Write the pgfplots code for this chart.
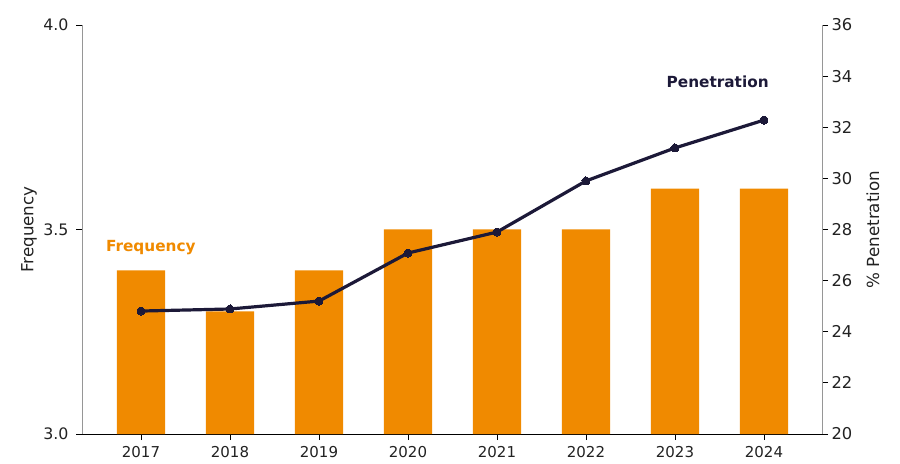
\documentclass[border=0pt]{standalone}
\usepackage{pgfplots}
\pgfplotsset{compat=1.18}
\usepackage{fontspec}
\setmainfont{DejaVu Sans}
\definecolor{orng}{RGB}{240,138,0}
\definecolor{navy}{RGB}{28,25,56}
\definecolor{spine}{RGB}{150,150,150}
\definecolor{txt}{RGB}{34,34,34}
\begin{document}
\begin{tikzpicture}
\path[use as bounding box] (-82bp,-30bp) rectangle (818bp,434bp);
\begin{axis}[
  at={(0,0)}, anchor=south west,
  scale only axis, width=740bp, height=409bp,
  xmin=-0.663, xmax=7.652, ymin=3, ymax=4,
  axis x line*=bottom, axis y line*=left,
  x axis line style={draw=black, line width=0.8bp, -},
  y axis line style={draw=spine, line width=0.8bp, -},
  tick align=outside, major tick length=6bp,
  tick style={black, line width=0.8bp},
  xtick={0,...,7},
  xticklabels={2017,2018,2019,2020,2021,2022,2023,2024},
  ytick={3,3.5,4},
  /pgf/number format/assume math mode=true,
  yticklabel style={/pgf/number format/fixed,/pgf/number format/fixed zerofill,/pgf/number format/precision=1, font=\fontsize{15.8bp}{18bp}\selectfont, text=txt, xshift=-4bp},
  xticklabel style={font=\fontsize{15bp}{17bp}\selectfont, text=txt, yshift=-3bp},
  every axis y label/.style={at={(axis description cs:0,0.5)}, xshift=-53bp, rotate=90, anchor=center},
  ylabel={Frequency},
  ylabel style={font=\fontsize{16.7bp}{20bp}\selectfont, text=txt},
  clip=false,
]
\addplot[ybar, bar width=0.54, fill=orng, draw=none, bar shift=0pt] coordinates {
(0,3.4) (1,3.3) (2,3.4) (3,3.5) (4,3.5) (5,3.5) (6,3.6) (7,3.6)};
\node[font=\bfseries\fontsize{15.3bp}{18bp}\selectfont, text=orng] at (axis cs:0.11,3.457) {Frequency};
\end{axis}
\begin{axis}[
  at={(0,0)}, anchor=south west,
  scale only axis, width=740bp, height=409bp,
  xmin=-0.663, xmax=7.652, ymin=20, ymax=36,
  axis x line=none, axis y line*=right,
  y axis line style={draw=spine, line width=0.8bp, -},
  tick align=outside, major tick length=6bp,
  tick style={black, line width=0.8bp},
  ytick={20,22,...,36},
  /pgf/number format/assume math mode=true,
  yticklabel style={font=\fontsize{16.3bp}{19bp}\selectfont, text=txt},
  every axis y label/.style={at={(axis description cs:1,0.5)}, xshift=51bp, rotate=90, anchor=center},
  ylabel={\% Penetration},
  ylabel style={font=\fontsize{16.7bp}{20bp}\selectfont, text=txt},
  clip=false,
]
\addplot[navy, line width=3.2bp, mark=*, mark size=4bp, mark options={fill=navy, draw=navy, line width=0pt}] coordinates {
(0,24.81) (1,24.89) (2,25.20) (3,27.08) (4,27.90) (5,29.90) (6,31.19) (7,32.28)};
\node[font=\bfseries\fontsize{15.3bp}{18bp}\selectfont, text=navy] at (axis cs:6.48,33.77) {Penetration};
\end{axis}
\end{tikzpicture}
\end{document}
